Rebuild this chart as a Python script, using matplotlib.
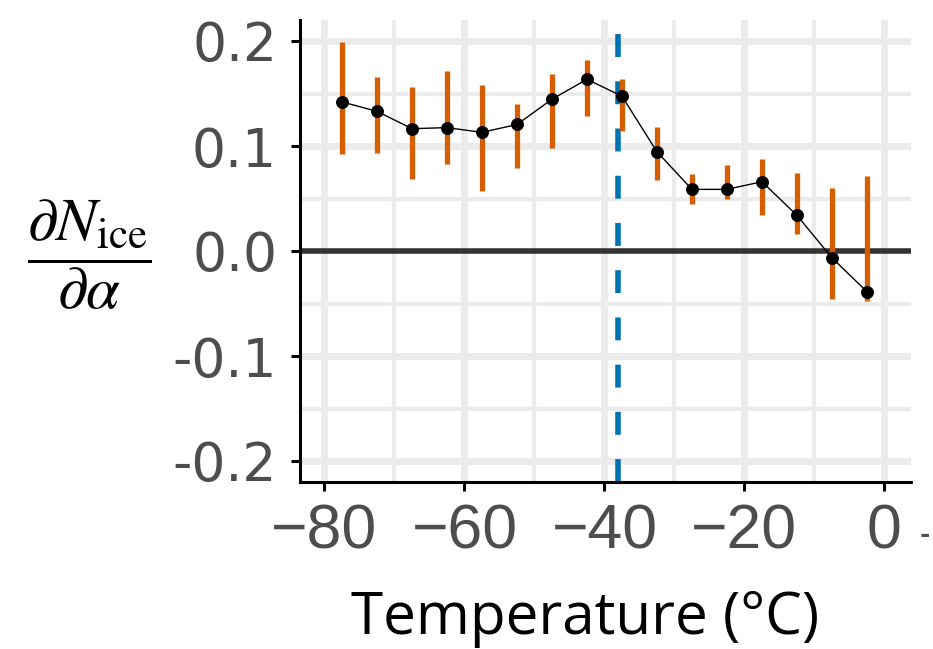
import matplotlib
matplotlib.use("Agg")
import matplotlib.pyplot as plt
import numpy as np

# ---- data ----
temperature = [-77.5, -72.5, -67.5, -62.5, -57.5, -52.5, -47.5, -42.5,
               -37.5, -32.5, -27.5, -22.5, -17.5, -12.5, -7.5, -2.5]
estimate = [0.142, 0.133, 0.1165, 0.1175, 0.113, 0.1205, 0.1445, 0.1635,
            0.1475, 0.0945, 0.0587, 0.0587, 0.066, 0.034, -0.0065, -0.0387]
lower = [0.092, 0.093, 0.069, 0.083, 0.057, 0.079, 0.098, 0.129,
         0.114, 0.068, 0.045, 0.050, 0.034, 0.016, -0.046, -0.0476]
upper = [0.199, 0.166, 0.156, 0.171, 0.158, 0.140, 0.169, 0.182,
         0.1635, 0.118, 0.073, 0.082, 0.088, 0.074, 0.060, 0.0714]
threshold = -38.0
x_ticks = [-80, -60, -40, -20, 0]
x_ticklabels = ["\u221280", "\u221260", "\u221240", "\u221220", "0"]
y_ticks = [-0.2, -0.1, 0.0, 0.1, 0.2]
y_ticklabels = ["-0.2", "-0.1", "0.0", "0.1", "0.2"]

plt.rcParams['mathtext.fontset'] = 'stix'
plt.rcParams['lines.scale_dashes'] = False

W, H = 933, 649
fig = plt.figure(figsize=(W / 100, H / 100), dpi=100)
ax = fig.add_axes([300 / W, 1 - 482 / H, (911 - 300) / W, (482 - 20) / H])

ax.set_xlim(-83.5, 3.8)
ax.set_ylim(-0.22, 0.22)

grid_c = "#EBEBEB"
for v in [-80, -60, -40, -20, 0]:
    ax.axvline(v, color=grid_c, lw=5.0, zorder=0)
for v in [-70, -50, -30, -10]:
    ax.axvline(v, color=grid_c, lw=3.0, zorder=0)
for v in [-0.2, -0.1, 0.1, 0.2]:
    ax.axhline(v, color=grid_c, lw=5.0, zorder=0)
for v in [-0.15, -0.05, 0.05, 0.15]:
    ax.axhline(v, color=grid_c, lw=3.0, zorder=0)

ax.axhline(0, color="#333333", lw=4.0, zorder=1)
ax.axvline(threshold, color="#0072B2", lw=4.0, dashes=(16.5, 17.5), zorder=2)

ax.vlines(temperature, lower, upper, color="#D55E00", lw=3.8, zorder=3)
ax.plot(temperature, estimate, color="black", lw=1.0, zorder=4)
ax.plot(temperature, estimate, 'o', color="black", ms=8.3, zorder=5)

for side in ["top", "right"]:
    ax.spines[side].set_visible(False)
for side in ["left", "bottom"]:
    ax.spines[side].set_linewidth(2.2)
    ax.spines[side].set_color("black")

ax.set_xticks(x_ticks)
ax.set_xticklabels(x_ticklabels, family="Liberation Sans", fontsize=45, color="#4D4D4D")
ax.set_yticks(y_ticks)
ax.set_yticklabels(y_ticklabels, family="DejaVu Sans", fontsize=38.5, color="#4D4D4D")
ax.tick_params(axis="both", length=6.5, width=2.2, color="black")
ax.tick_params(axis="x", pad=8)
ax.tick_params(axis="y", pad=10)

fig.text(585 / W, 1 - 634 / H, "Temperature (\u00b0C)", family="Open Sans",
         fontsize=42, color="black", ha="center", va="baseline")
fig.text(89 / W, 1 - 255 / H, r"$\dfrac{\partial N_{\mathrm{ice}}}{\partial \alpha}$",
         fontsize=44, color="black", ha="center", va="center")
fig.text(920 / W, 1 - 535 / H, "-", family="DejaVu Sans", fontweight="bold",
         fontsize=18, color="#4D4D4D", ha="left", va="center")

fig.savefig("out.png", dpi=100)
